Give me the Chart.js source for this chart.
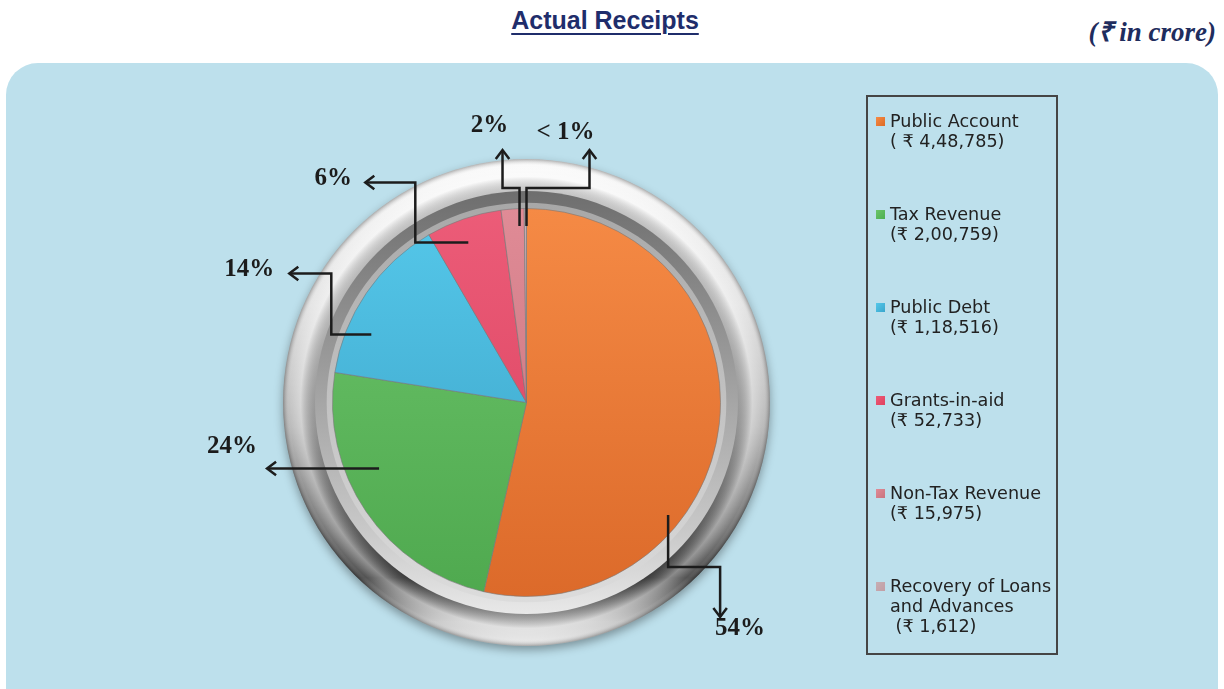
<!DOCTYPE html>
<html>
<head>
<meta charset="utf-8">
<script src="https://cdn.jsdelivr.net/npm/chart.js@4.4.0/dist/chart.umd.min.js"></script>
<style>
  body { margin: 0; background: #fff; width: 1224px; height: 689px; overflow: hidden; position: relative; }
  #panel { position: absolute; left: 6px; top: 63px; width: 1212px; height: 660px; background: #bde0ec; border-radius: 32px; }
  #title { position: absolute; left: 0; width: 1210px; top: 6px; text-align: center; font: bold 25px "Liberation Sans Narrow", "Liberation Sans", sans-serif; color: #1f2d6b; text-decoration: underline; text-decoration-thickness: 2px; text-underline-offset: 4px; }
  #unit { position: absolute; right: 8px; top: 12px; font: italic bold 27px "Liberation Serif", serif; color: #1f2d5e; }
  #myChart { position: absolute; left: 0; top: 0; }
  #legend { position: absolute; left: 866px; top: 95px; width: 188px; height: 556px; border: 2px solid #454545; }
  .item { position: absolute; left: 8px; font: 17.6px "DejaVu Sans", sans-serif; color: #222; line-height: 20px; white-space: pre; }
  .item .box { position: absolute; left: 0; top: 6px; width: 9px; height: 9px; }
  .item .txt { margin-left: 14px; }
</style>
</head>
<body>
<div id="panel"></div>
<div id="title">Actual Receipts</div>
<div id="unit">(₹ in crore)</div>
<canvas id="myChart" width="1224" height="689"></canvas>
<div id="legend"></div>
<script>
// receipts, ₹ in crore
var categories = ['Public Account', 'Tax Revenue', 'Public Debt', 'Grants-in-aid', 'Non-Tax Revenue', 'Recovery of Loans\nand Advances'];
var amounts = [448785, 200759, 118516, 52733, 15975, 1612];
var valuePrefix = ['( ₹ ', '(₹ ', '(₹ ', '(₹ ', '(₹ ', ' (₹ '];
var topColors = ['#f58a45', '#6cc46a', '#55c8ea', '#ec5c78', '#e08b96', '#c6aeb3'];
var bottomColors = ['#dc6a2a', '#4fa94f', '#3a9fc4', '#d9405e', '#c4707b', '#a89297'];
var markerColors = ['#dd6a24', '#4caf50', '#3aa6cc', '#e0405e', '#c9747e', '#c29ea5'];

// callout leg offsets (px) from an anchor inside each slice
var callouts = [
  { a: [0.73, 0.58], legs: [[0, 52], [52, 0], [0, 50]], lab: [20, 12] },
  { a: [-0.76, 0.34], legs: [[-112, 0]], lab: [-35, -22] },
  { a: [-0.80, -0.35], legs: [[-40, 0], [0, -61], [-42, 0]], lab: [-40, -4] },
  { a: [-0.30, -0.825], legs: [[-53, 0], [0, -60], [-50, 0]], lab: [-32, -4] },
  { a: [-0.036, -0.91], legs: [[0, -38], [-17, 0], [0, -38]], lab: [-13, -24] },
  { a: [0.0, -0.91], legs: [[0, -38], [63, 0], [0, -38]], lab: [-24, -17] }
];

var total = amounts.reduce(function(s, v) { return s + v; }, 0);

function indianFormat(n) {
  var s = String(n);
  if (s.length <= 3) return s;
  var last3 = s.slice(-3);
  var rest = s.slice(0, -3).replace(/\B(?=(\d{2})+(?!\d))/g, ',');
  return rest + ',' + last3;
}

function pctLabel(v) {
  var p = v / total * 100;
  return p < 1 ? '< 1%' : Math.round(p) + '%';
}

// html legend
var legendEl = document.getElementById('legend');
categories.forEach(function(c, i) {
  var d = document.createElement('div');
  d.className = 'item';
  d.style.top = (14 + i * 93) + 'px';
  d.innerHTML = '<span class="box" style="background:linear-gradient(135deg,' + topColors[i] + ',' + markerColors[i] + ')"></span>' +
    '<div class="txt"></div>';
  d.querySelector('.txt').textContent = c + '\n' + valuePrefix[i] + indianFormat(amounts[i]) + ')';
  legendEl.appendChild(d);
});

function sliceFill(context) {
  var chart = context.chart;
  var i = context.dataIndex;
  var area = chart.chartArea;
  if (!area) return topColors[i];
  var g = chart.ctx.createLinearGradient(0, area.top, 0, area.bottom);
  g.addColorStop(0, topColors[i]);
  g.addColorStop(1, bottomColors[i]);
  return g;
}

var ringPlugin = {
  id: 'ring',
  beforeDatasetsDraw: function(chart) {
    var arc = chart.getDatasetMeta(0).data[0];
    if (!arc) return;
    var ctx = chart.ctx, cx = arc.x, cy = arc.y, R = arc.outerRadius;
    var r1 = R * 1.255, r2 = R * 1.09, r3 = R * 1.03;
    ctx.save();
    // outer metal ring
    ctx.shadowColor = 'rgba(0,0,0,0.35)';
    ctx.shadowBlur = 10;
    ctx.shadowOffsetY = 4;
    var g = ctx.createLinearGradient(0, cy - r1, 0, cy + r1);
    g.addColorStop(0, '#fbfbfb');
    g.addColorStop(0.3, '#e4e4e4');
    g.addColorStop(0.55, '#b8b8b8');
    g.addColorStop(0.76, '#747474');
    g.addColorStop(0.86, '#4a4a4a');
    g.addColorStop(0.95, '#c8c8c8');
    g.addColorStop(1, '#efefef');
    ctx.beginPath(); ctx.arc(cx, cy, r1, 0, Math.PI * 2); ctx.fillStyle = g; ctx.fill();
    ctx.shadowColor = 'transparent';
    // tube shading
    var rg = ctx.createRadialGradient(cx, cy, r2, cx, cy, r1);
    rg.addColorStop(0, 'rgba(0,0,0,0.2)');
    rg.addColorStop(0.45, 'rgba(255,255,255,0.35)');
    rg.addColorStop(0.8, 'rgba(255,255,255,0.05)');
    rg.addColorStop(1, 'rgba(0,0,0,0.3)');
    ctx.beginPath(); ctx.arc(cx, cy, r1, 0, Math.PI * 2); ctx.fillStyle = rg; ctx.fill();
    // inner bevel
    var g2 = ctx.createLinearGradient(0, cy - r2, 0, cy + r2);
    g2.addColorStop(0, '#6e6e6e');
    g2.addColorStop(0.4, '#9a9a9a');
    g2.addColorStop(0.8, '#c8c8c8');
    g2.addColorStop(1, '#e8e8e8');
    ctx.beginPath(); ctx.arc(cx, cy, r2, 0, Math.PI * 2); ctx.fillStyle = g2; ctx.fill();
    var g3 = ctx.createLinearGradient(0, cy - r3, 0, cy + r3);
    g3.addColorStop(0, '#a8a8a8');
    g3.addColorStop(1, '#dcdcdc');
    ctx.beginPath(); ctx.arc(cx, cy, r3, 0, Math.PI * 2); ctx.fillStyle = g3; ctx.fill();
    ctx.restore();
  }
};

var calloutPlugin = {
  id: 'callouts',
  afterDatasetsDraw: function(chart) {
    var meta = chart.getDatasetMeta(0);
    var ctx = chart.ctx;
    ctx.save();
    ctx.strokeStyle = '#1c1c1c';
    ctx.lineWidth = 2.5;
    ctx.lineJoin = 'miter';
    ctx.font = 'bold 25px "Liberation Serif", serif';
    ctx.fillStyle = '#1c1c1c';
    ctx.textAlign = 'center';
    ctx.textBaseline = 'middle';
    meta.data.forEach(function(arc, i) {
      var c = callouts[i];
      var R = arc.outerRadius;
      var x = arc.x + c.a[0] * R, y = arc.y + c.a[1] * R;
      ctx.beginPath();
      ctx.moveTo(x, y);
      var dx = 0, dy = 0;
      c.legs.forEach(function(l) { x += l[0]; y += l[1]; dx = l[0]; dy = l[1]; ctx.lineTo(x, y); });
      ctx.stroke();
      // arrow head
      var len = Math.sqrt(dx * dx + dy * dy);
      var ux = dx / len, uy = dy / len, s = 9;
      ctx.beginPath();
      ctx.moveTo(x - ux * s - uy * s * 0.75, y - uy * s + ux * s * 0.75);
      ctx.lineTo(x, y);
      ctx.lineTo(x - ux * s + uy * s * 0.75, y - uy * s - ux * s * 0.75);
      ctx.stroke();
      ctx.fillText(pctLabel(amounts[i]), x + c.lab[0], y + c.lab[1]);
    });
    ctx.restore();
  }
};

window.onload = function() {
  var ctx = document.getElementById('myChart').getContext('2d');
  window.myChart = new Chart(ctx, {
    type: 'pie',
    data: {
      labels: categories,
      datasets: [{
        data: amounts,
        backgroundColor: sliceFill,
        borderColor: 'rgba(120,120,120,0.6)',
        borderWidth: 1
      }]
    },
    options: {
      responsive: false,
      animation: false,
      layout: { padding: { left: 332, right: 503, top: 208, bottom: 92 } },
      plugins: {
        legend: { display: false },
        tooltip: { enabled: false }
      }
    },
    plugins: [ringPlugin, calloutPlugin]
  });
};
</script>
</body>
</html>
